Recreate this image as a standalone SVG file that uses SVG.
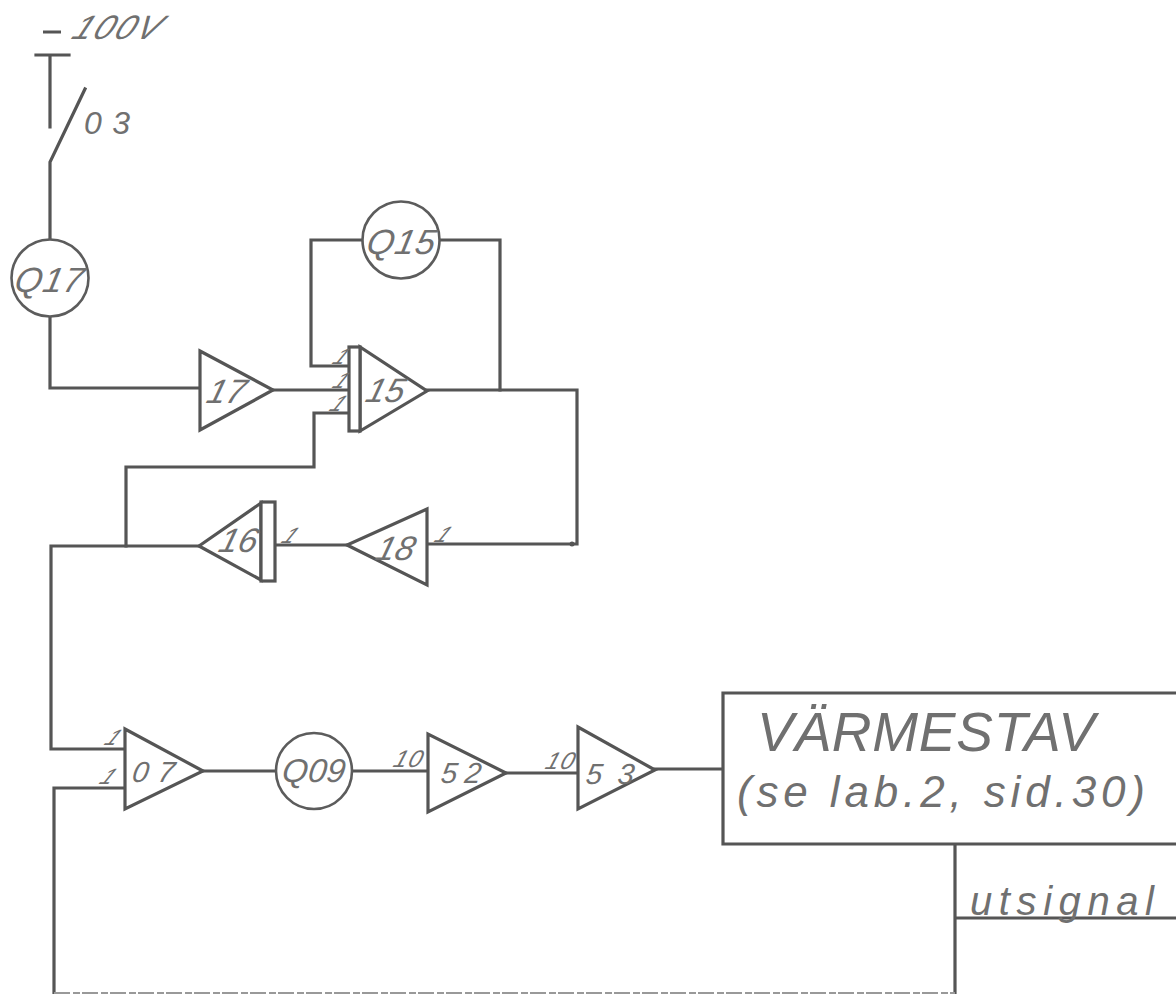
<svg xmlns="http://www.w3.org/2000/svg" width="1176" height="994" viewBox="0 0 1176 994">
<style>
.l{fill:none;stroke:#555;stroke-width:3.2;stroke-linejoin:miter;stroke-linecap:square}
.s{fill:#fff;stroke:#555;stroke-width:3.2;stroke-linejoin:miter}
.c{fill:#fff;stroke:#5c5c5c;stroke-width:2.6}
text{font-family:"Liberation Sans",Arial,sans-serif;font-style:italic;fill:#707070}
.q{font-size:35px}
.n{font-size:24px}
.t{font-size:22px}
.d{font-size:34px}
.e{font-size:29px}
</style>
<rect width="1176" height="994" fill="#fff"/>
<g id="connectors">
<path class="l" d="M36 55H69M50 55V127M85 89L50 162V238"/>
<path class="l" d="M50 317V388H200"/>
<path class="l" d="M273 390H349"/>
<path class="l" d="M349 366H311V240H362M441 240H500V390"/>
<path class="l" d="M427 390H577V544H429"/>
<path class="l" d="M347 545H276"/>
<path class="l" d="M349 413H314V467H126V546"/>
<path class="l" d="M199 546H51V749H124"/>
<path class="l" d="M124 788H54V994"/>
<path class="l" d="M203 771H276"/>
<path class="l" d="M353 771H428"/>
<path class="l" d="M506 773H578"/>
<path class="l" d="M655 769H722"/>
<path class="l" d="M955 844V994M955 918H1176"/>
<path d="M54 993H955" fill="none" stroke="#999" stroke-width="2" stroke-dasharray="16 3 7 2"/>
<circle cx="572" cy="544" r="2.5" fill="#555"/>
</g>
<g id="supply">
<path d="M43 32H61" fill="none" stroke="#555" stroke-width="3"/>
<text class="d" transform="translate(70 39) skewX(-25)" textLength="86">100V</text>
<text style="font-size:32px" transform="translate(84 134)" textLength="46">03</text>
</g>
<g id="q17"><circle class="c" cx="50" cy="278" r="38.5"/><text class="q" transform="translate(13 292) skewX(-12)" textLength="68">Q17</text></g>
<g id="q15"><circle class="c" cx="401" cy="240" r="38.5"/><text class="q" transform="translate(365 254) skewX(-12)" textLength="68">Q15</text></g>
<g id="amp17"><path class="s" d="M200 351V430L273 390Z"/><text class="d" transform="translate(205 403) skewX(-15)" textLength="38">17</text></g>
<g id="amp15">
<path class="s" d="M360 347V431L427 391Z"/><rect class="s" x="349" y="347" width="11" height="84"/>
<text class="d" transform="translate(364 402) skewX(-15)" textLength="38">15</text>
<text class="t" transform="translate(331 364) skewX(-32)">1</text>
<text class="t" transform="translate(331 388) skewX(-32)">1</text>
<text class="t" transform="translate(328 411) skewX(-32)">1</text>
</g>
<g id="amp18"><path class="s" d="M427 509V585L347 545Z"/><text class="d" transform="translate(374 560) skewX(-15)" textLength="38">18</text><text class="t" transform="translate(433 542) skewX(-32)">1</text></g>
<g id="amp16"><path class="s" d="M261 503V580L199 546Z"/><rect class="s" x="261" y="502" width="14" height="79"/><text class="d" transform="translate(217 552) skewX(-15)" textLength="38">16</text><text class="t" transform="translate(280 543) skewX(-32)">1</text></g>
<g id="amp07"><path class="s" d="M125 729V809L203 771Z"/><text class="e" transform="translate(131 782) skewX(-10)" textLength="42">07</text><text class="t" transform="translate(103 745) skewX(-32)">1</text><text class="t" transform="translate(98 784) skewX(-32)">1</text></g>
<g id="q09"><circle class="c" cx="314" cy="771" r="38"/><text class="q" style="font-size:33px" transform="translate(281 782) skewX(-8)" textLength="63">Q09</text></g>
<g id="amp52"><path class="s" d="M428 734V812L506 773Z"/><text class="e" transform="translate(440 783) skewX(-8)" textLength="40">52</text><text class="n" transform="translate(392 767) skewX(-18)" textLength="28">10</text></g>
<g id="amp53"><path class="s" d="M578 727V809L655 770Z"/><text class="e" transform="translate(585 784) skewX(-8)" textLength="48">53</text><text class="n" transform="translate(544 769) skewX(-18)" textLength="28">10</text></g>
<g id="varmestav">
<path class="l" d="M1176 693H723V844H1176" style="fill:#fff"/>
<text style="font-size:55px" x="757" y="751" textLength="338">VÄRMESTAV</text>
<text style="font-size:44px" x="737" y="807" textLength="408">(se lab.2, sid.30)</text>
</g>
<text style="font-size:40px" x="970" y="915" textLength="184">utsignal</text>
</svg>
